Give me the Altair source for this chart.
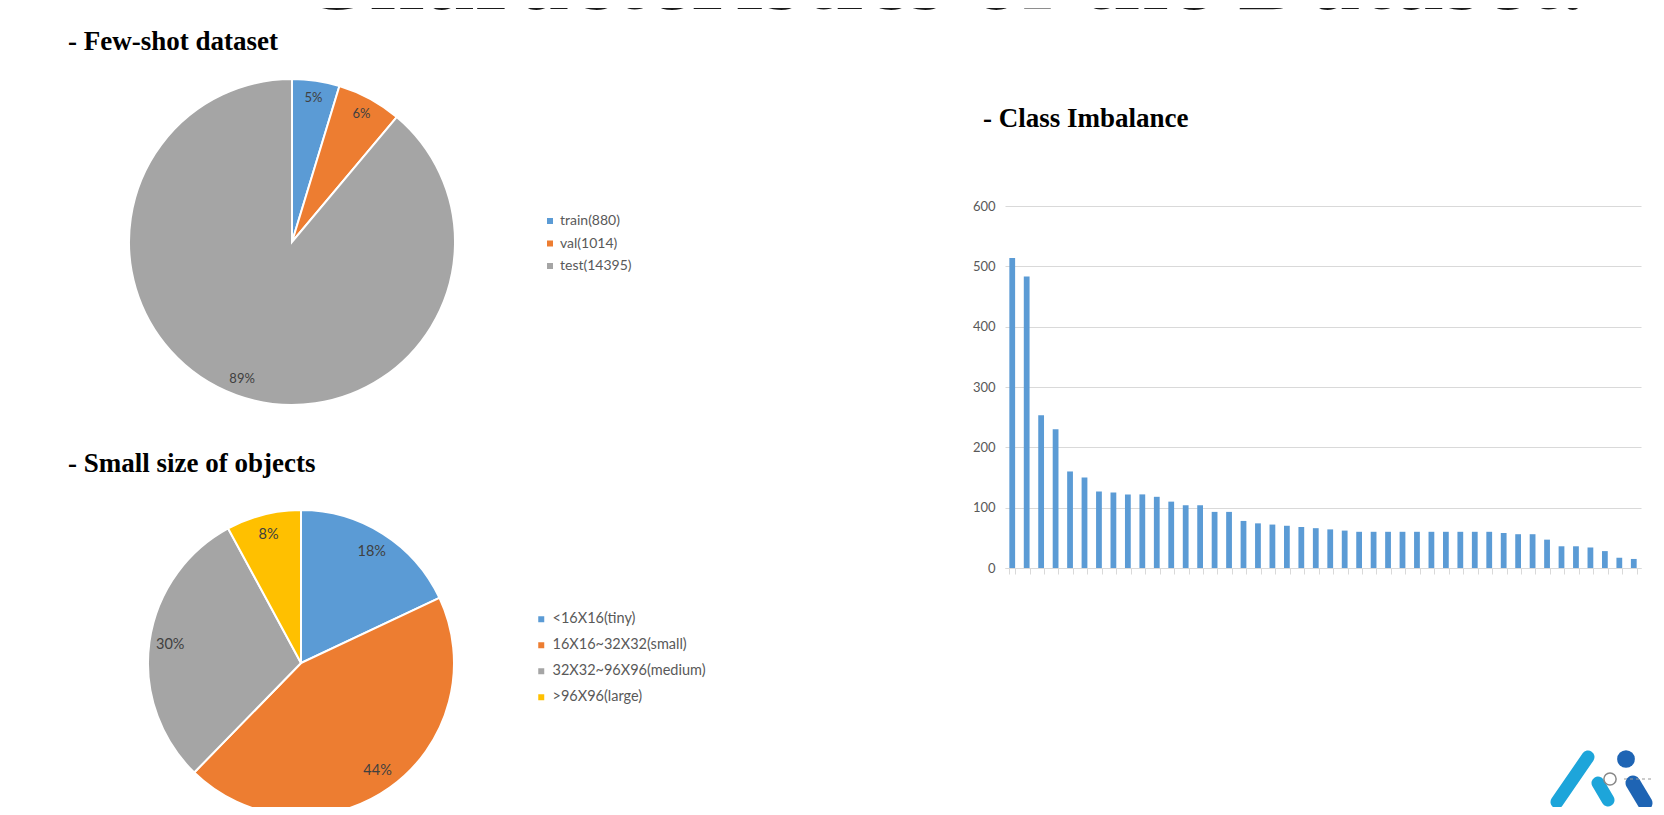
import altair as alt
import pandas as pd

# ---------------- data ----------------
fs_labels = ["train(880)", "val(1014)", "test(14395)"]
fs_share = [4.7, 6.4, 88.9]
fs_text = ["5%", "6%", "89%"]
fs_colors = ["#5B9BD5", "#ED7D31", "#A5A5A5"]

sz_labels = ["<16X16(tiny)", "16X16~32X32(small)", "32X32~96X96(medium)", ">96X96(large)"]
sz_share = [18.0, 44.3, 29.8, 7.9]
sz_text = ["18%", "44%", "30%", "8%"]
sz_colors = ["#5B9BD5", "#ED7D31", "#A5A5A5", "#FFC000"]

class_ids = list(range(1, 45))
class_counts = [514, 483, 253, 230, 160, 150, 127, 125, 122, 122, 118, 110,
                104, 104, 93, 93, 78, 74, 72, 70, 68, 66, 64, 62,
                60, 60, 60, 60, 60, 60, 60, 60, 60, 60,
                58, 56, 56, 47, 36, 36, 34, 28, 17, 15]
y_ticks = [0, 100, 200, 300, 400, 500, 600]

main_title = "Characteristics of the Dataset."
sec_titles = ["- Few-shot dataset", "- Small size of objects", "- Class Imbalance"]

# ---------------- bar chart ----------------
bars_df = pd.DataFrame({"cls": class_ids, "count": class_counts})
bars = alt.Chart(bars_df).mark_bar(color="#5B9BD5").encode(
    x=alt.X("cls:O", sort=None,
            scale=alt.Scale(paddingInner=0.6, paddingOuter=0.3),
            axis=alt.Axis(labels=False, title=None, ticks=True, tickBand="extent",
                          tickColor="#D9D9D9", tickSize=6, domainColor="#D9D9D9",
                          domainWidth=1, grid=False)),
    y=alt.Y("count:Q", scale=alt.Scale(domain=[0, 600], nice=False),
            axis=alt.Axis(values=y_ticks, title=None, ticks=False, domain=False,
                          labelFont="Lato", labelFontSize=13, labelColor="#595959",
                          labelPadding=10, gridColor="#D9D9D9", gridWidth=1)),
)


def pie(labels, shares, texts, colors, cx, cy, r, r_lab, fsize,
        lx, ly, lfs, lrow, loff):
    df = pd.DataFrame({"label": labels, "share": shares, "pct": texts,
                       "k": list(range(len(labels)))})
    base = alt.Chart(df).encode(
        theta=alt.Theta("share:Q", stack=True),
        order=alt.Order("k:Q"),
        x=alt.value(cx), y=alt.value(cy),
    )
    arc = base.mark_arc(outerRadius=r, stroke="white", strokeWidth=2).encode(
        color=alt.Color("label:N", scale=alt.Scale(domain=labels, range=colors),
                        legend=alt.Legend(orient="none", legendX=lx, legendY=ly,
                                          title=None, symbolType="square",
                                          symbolSize=36, symbolStrokeWidth=0,
                                          labelFont="Lato", labelFontSize=lfs,
                                          labelColor="#595959", rowPadding=lrow,
                                          labelOffset=loff, padding=0)))
    txt = base.mark_text(radius=r_lab, font="Lato", fontSize=fsize,
                         color="#404040").encode(text="pct:N", detail="label:N")
    return alt.layer(arc, txt)


pie1 = pie(fs_labels, fs_share, fs_text, fs_colors, -713, 36, 163, 146, 13,
           -462, 8, 14, 8.5, 3)
pie2 = pie(sz_labels, sz_share, sz_text, sz_colors, -704, 457, 153, 132, 14.5,
           -471, 406, 14.5, 11, 4)


def label(txt, x, y, size, weight="bold", color="#000000", align="left"):
    return alt.Chart(pd.DataFrame({"t": [txt]})).mark_text(
        font="Liberation Serif", fontSize=size, fontWeight=weight, color=color,
        align=align, baseline="alphabetic").encode(
        text="t:N", x=alt.value(x), y=alt.value(y))


t_main = label(main_title, -64, -197, 100, weight="bold", color="#1a1a1a", align="center")
t1 = label(sec_titles[0], -937, -156, 27)
t2 = label(sec_titles[1], -937, 266, 27)
t3 = label(sec_titles[2], -22, -79, 27)

# ---------------- logo (decoration) ----------------
one = pd.DataFrame({"a": [0]})


def seg(x1, y1, x2, y2, w, c, dash=None):
    kw = dict(strokeWidth=w, color=c, strokeCap="round")
    if dash:
        kw["strokeDash"] = dash
        kw["strokeCap"] = "butt"
    return alt.Chart(one).mark_rule(**kw).encode(
        x=alt.value(x1), y=alt.value(y1), x2=alt.value(x2), y2=alt.value(y2))


logo = [
    seg(552, 596, 583, 551, 13, "#1DA5DA"),
    seg(593, 577, 603, 594, 13, "#1DA5DA"),
    seg(628, 577, 640, 597, 15, "#1E64B4"),
    seg(619, 573, 649, 573, 1, "#999999", dash=[3, 3]),
    alt.Chart(one).mark_circle(size=314, color="#1E64B4", opacity=1).encode(
        x=alt.value(621), y=alt.value(553)),
    alt.Chart(one).mark_point(size=150, filled=True, fill="white", stroke="#888888",
                              strokeWidth=1.5, opacity=1, shape="circle").encode(
        x=alt.value(605), y=alt.value(573)),
]

chart = alt.layer(bars, pie1, pie2, t_main, t1, t2, t3, *logo).resolve_scale(
    theta="independent", color="independent"
).properties(
    width=636, height=362,
    padding={"left": 997, "top": 198, "right": 13, "bottom": 239},
    autosize=alt.AutoSizeParams(type="none"),
    background="white",
).configure_view(stroke=None)

chart.save("out.html", embed_options={"renderer": "svg", "actions": False})
